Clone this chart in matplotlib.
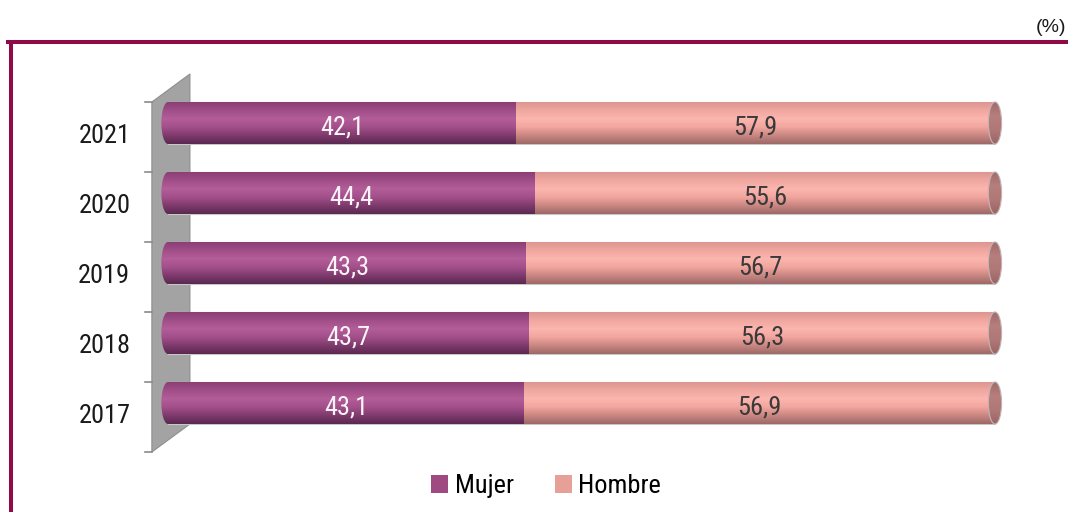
"""Stacked cylinder bar chart: share of women and men by year."""
import matplotlib

matplotlib.use("Agg")

import matplotlib.pyplot as plt  # noqa: E402
import numpy as np  # noqa: E402
from matplotlib import font_manager  # noqa: E402
from matplotlib.colors import LinearSegmentedColormap  # noqa: E402
from matplotlib.lines import Line2D  # noqa: E402
from matplotlib.patches import Ellipse, Patch, Polygon, Rectangle  # noqa: E402

YEARS = ["2017", "2018", "2019", "2020", "2021"]
MUJER = [43.1, 43.7, 43.3, 44.4, 42.1]
HOMBRE = [56.9, 56.3, 56.7, 55.6, 57.9]
SERIES = ["Mujer", "Hombre"]

FRAME = "#8E0B48"
MUJER_STOPS = ["#8A3F75", "#A04E88", "#B35D99", "#A24F8A", "#7E3A6C", "#5A2850"]
HOMBRE_STOPS = ["#DC9690", "#F0A7A0", "#FCB6AF", "#F1A59E", "#C98681", "#9C6866"]
CAP_STOPS = ["#A06C6C", "#B67E7D", "#B07777", "#9A6464"]

# the original uses a condensed sans; take the first narrow face that is installed
fonts = font_manager.fontManager.ttflist
names = {f.name for f in fonts}
if "Liberation Sans Narrow" in names:
    plt.rcParams["font.family"] = ["Liberation Sans Narrow", "DejaVu Sans"]
elif "Roboto Condensed" in names:
    plt.rcParams["font.family"] = ["Roboto Condensed", "DejaVu Sans"]
else:
    plt.rcParams["font.family"] = ["Liberation Sans", "DejaVu Sans"]

fig = plt.figure(figsize=(10.68, 5.12), dpi=100)
W, H = 1068, 512
ax = fig.add_axes([168 / W, (H - 438) / H, (995 - 168) / W, 350 / H])
ax.axis("off")

y = np.arange(len(YEARS))
bar_h = 0.6
cap_w = 1.6
grad = np.linspace(0, 1, 256).reshape(-1, 1)


def shade(ax, patch, extent, stops, zorder):
    """Fill a patch with a vertical gradient, so the bar reads as a cylinder."""
    cmap = LinearSegmentedColormap.from_list("", stops)
    im = ax.imshow(grad, cmap=cmap, extent=extent, aspect="auto",
                   origin="upper", zorder=zorder)
    im.set_clip_path(patch)
    im.set_clip_box(fig.bbox)
    return im


# grey back wall with its tick marks
dy = 0.2
n = len(YEARS)
wall = Polygon([(-1.95, -0.5 - dy), (-1.95, n - 0.5 - dy), (2.65, n - 0.5 + dy),
                (2.65, -0.5 + dy)], closed=True, facecolor="#A3A3A3",
               edgecolor="#8E8E8E", lw=0.8, zorder=1, clip_on=False)
ax.add_patch(wall)
for k in range(n + 1):
    ax.plot([-2.8, -1.95], [k - 0.5 - dy] * 2, color="#8A8A8A", lw=1.2,
            clip_on=False, zorder=1)

bars_m = ax.barh(y, MUJER, height=bar_h, color="none", zorder=3)
bars_h = ax.barh(y, HOMBRE, left=MUJER, height=bar_h, color="none", zorder=3)

for bm, bh, m, hv, yy in zip(bars_m, bars_h, MUJER, HOMBRE, y):
    y0, y1 = yy - bar_h / 2, yy + bar_h / 2
    # rounded left end of the cylinder
    left_end = Ellipse((0, yy), cap_w, bar_h, facecolor="none", edgecolor="none",
                       clip_on=False)
    ax.add_patch(left_end)
    shade(ax, left_end, (-cap_w / 2, 0, y0, y1), MUJER_STOPS, 3)
    shade(ax, bm, (0, m, y0, y1), MUJER_STOPS, 3)
    shade(ax, bh, (m, m + hv, y0, y1), HOMBRE_STOPS, 3)
    ax.add_patch(Rectangle((0, y0), m + hv, bar_h, fill=False,
                           edgecolor="#C8C8C8", lw=0.8, zorder=2, clip_on=False))
    # right end face
    right_end = Ellipse((m + hv, yy), cap_w, bar_h, facecolor="none",
                        edgecolor="#C4B4B4", lw=0.8, zorder=5, clip_on=False)
    ax.add_patch(right_end)
    shade(ax, right_end, (m + hv - cap_w / 2, m + hv + cap_w / 2, y0, y1),
          CAP_STOPS, 4)

    ax.text(m / 2, yy - 0.06, f"{m:.1f}".replace(".", ","), ha="center",
            va="center", fontsize=19, color="#FAF4F8", zorder=6)
    ax.text(m + hv / 2, yy - 0.06, f"{hv:.1f}".replace(".", ","), ha="center",
            va="center", fontsize=19, color="#3A3A3A", zorder=6)

ax.set_xlim(0, 100)
ax.set_ylim(-0.5, len(YEARS) - 0.5)

for yy, label in zip(y, YEARS):
    ax.text(-4.55, yy - 0.19, label, ha="right", va="center", fontsize=19,
            color="#1A1A1A", clip_on=False)

# maroon frame
fig.add_artist(Line2D([8 / W, 1], [1 - 41.5 / H] * 2, color=FRAME, lw=2.9))
fig.add_artist(Line2D([10.5 / W] * 2, [1 - 41.5 / H, 0], color=FRAME, lw=2.9))
fig.text(1066 / W, 1 - 28 / H, "(%)", ha="right", va="center", fontsize=14,
         family=["Liberation Sans", "DejaVu Sans"], color="#1A1A1A")

handles = [Patch(facecolor="#A04A82"), Patch(facecolor="#E6A098")]
fig.legend(handles, SERIES, loc="center", bbox_to_anchor=(546 / W, 1 - 486 / H),
           ncol=2, frameon=False, fontsize=19, handlelength=0.65,
           handleheight=0.65, handletextpad=0.25, columnspacing=1.55)

fig.savefig("out.png", dpi=100)
